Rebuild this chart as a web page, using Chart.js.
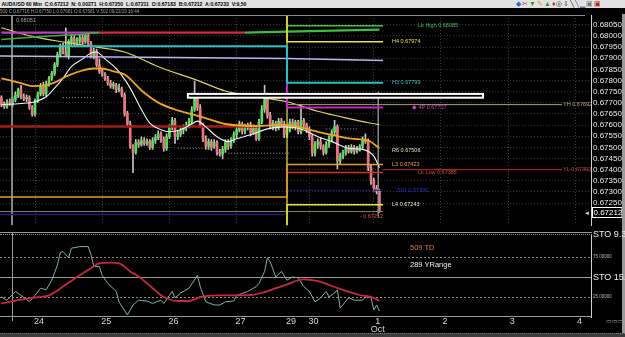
<!DOCTYPE html>
<html><head><meta charset="utf-8">
<script src="https://cdn.jsdelivr.net/npm/chart.js@4.4.1/dist/chart.umd.min.js"></script>
<style>
html,body{margin:0;padding:0;background:#000;}
body{width:625px;height:337px;overflow:hidden;position:relative;font-family:"Liberation Sans",Arial,sans-serif;}
canvas{position:absolute;left:0;}
#cMain{top:0}
#cSub{top:232px}
.t{position:absolute;white-space:nowrap;}
</style></head><body>
<canvas id="cMain" width="625" height="232"></canvas>
<canvas id="cSub" width="625" height="105"></canvas>
<div class="t" style="left:0;top:0;width:625px;height:8px;background:#e2e2e2;color:#000;font-size:5.1px;line-height:8px;font-weight:bold;">&nbsp;AUD/USD 60 Min&nbsp; C:0.67212&nbsp; N: 0.00271&nbsp; H:0.67250&nbsp; L:0.67211&nbsp; O:0.67183&nbsp; B:0.67212&nbsp; A:0.67233&nbsp; V:9,50</div>
<div class="t" style="left:516px;top:0;font-size:7px;line-height:8px;letter-spacing:1px;"><span style="color:#2a6bd0">◆</span><span style="color:#c03030">✂</span><span style="color:#2a9a2a">▼</span><span style="color:#d0a020">✎</span><span style="color:#30a030">▲</span><span style="color:#c03030">♦</span><span style="color:#333">◎</span><span style="color:#333">⇩</span><span style="color:#333">╲</span><span style="color:#2a6bd0">╲</span><span style="color:#555">▁</span><span style="color:#777">▣</span><span style="color:#c02020">▣</span></div>
<div class="t" style="left:0;top:8px;color:#a0a0a0;font-size:4.5px;line-height:7px;">500 C:0.67716 H:0.67750 L:0.67681 O:0.67681 V:502 09/23/19 16:44</div>
<div class="t" style="left:0;top:232px;width:592px;height:1px;border-top:1px solid #9a9a9a;border-bottom:1px dotted #9a9a9a;"></div>
<div class="t" style="left:0;top:333px;width:625px;height:4px;background:#3c3c3c;border-top:1px dotted #777;"></div>
<div class="t" style="left:622px;top:14px;width:3px;height:319px;background:#9a9a9a;"></div>
<div class="t" style="left:410px;top:243px;color:#e0783c;font-size:7.5px;">509 TD</div>
<div class="t" style="left:410px;top:260px;color:#f0f0f0;font-size:7.5px;">289 YRange</div>
<div class="t" style="left:593px;top:229px;color:#f0f0f0;font-size:9px;">STO 9.3</div>
<div class="t" style="left:593px;top:254px;color:#bbb;font-size:4.5px;">75.00000</div>
<div class="t" style="left:593px;top:272px;color:#f0f0f0;font-size:9px;">STO 15.</div>
<div class="t" style="left:593px;top:294px;color:#bbb;font-size:4.5px;">25.00000</div>
<div class="t" style="left:606px;top:317px;color:#aaa;font-size:6px;">▭▭▭</div>
<script>
// ---------- DATA ----------
const open = [0.67723,0.67697,0.67683,0.67705,0.67692,0.67714,0.67731,0.67762,0.67727,0.67718,
0.67723,0.67679,0.67649,0.67710,0.67740,0.67775,0.67740,0.67784,0.67810,0.67832,
0.67871,0.67915,0.67954,0.67928,0.67910,0.67971,0.67989,0.67967,0.67980,0.67993,
0.67976,0.68002,0.67963,0.67910,0.67932,0.67871,0.67845,0.67827,0.67810,0.67788,
0.67775,0.67779,0.67758,0.67762,0.67736,0.67653,0.67605,0.67505,0.67478,0.67522,
0.67513,0.67531,0.67518,0.67526,0.67500,0.67531,0.67544,0.67561,0.67535,0.67496,
0.67548,0.67592,0.67618,0.67548,0.67561,0.67579,0.67587,0.67601,0.67614,0.67670,
0.67718,0.67679,0.67601,0.67539,0.67505,0.67526,0.67505,0.67522,0.67478,0.67470,
0.67491,0.67522,0.67505,0.67531,0.67557,0.67579,0.67605,0.67574,0.67592,0.67601,
0.67566,0.67587,0.67539,0.67614,0.67670,0.67714,0.67644,0.67592,0.67609,0.67587,
0.67618,0.67605,0.67557,0.67579,0.67614,0.67596,0.67614,0.67570,0.67622,0.67601,
0.67579,0.67548,0.67474,0.67513,0.67526,0.67505,0.67478,0.67513,0.67539,0.67570,
0.67592,0.67439,0.67461,0.67478,0.67496,0.67483,0.67500,0.67483,0.67491,0.67505,
0.67535,0.67526,0.67409,0.67348,0.67317,0.67304];
const high = [0.67731,0.67705,0.67714,0.67718,0.67727,0.67749,0.67766,0.67779,0.67740,0.67736,
0.67731,0.67688,0.67718,0.67749,0.67788,0.67793,0.67797,0.67819,0.67841,0.67880,
0.67928,0.67963,0.67967,0.68037,0.67984,0.68006,0.68002,0.67993,0.68006,0.68006,
0.68015,0.68011,0.67976,0.67945,0.67941,0.67897,0.67854,0.67836,0.67819,0.67801,
0.67793,0.67788,0.67784,0.67771,0.67745,0.67662,0.67618,0.67513,0.67535,0.67535,
0.67548,0.67544,0.67539,0.67535,0.67544,0.67557,0.67574,0.67570,0.67548,0.67561,
0.67601,0.67635,0.67631,0.67574,0.67587,0.67601,0.67614,0.67631,0.67683,0.67797,
0.67727,0.67692,0.67609,0.67552,0.67539,0.67535,0.67535,0.67531,0.67491,0.67505,
0.67535,0.67535,0.67544,0.67570,0.67592,0.67618,0.67614,0.67605,0.67609,0.67614,
0.67601,0.67596,0.67627,0.67688,0.67779,0.67723,0.67657,0.67622,0.67618,0.67631,
0.67631,0.67618,0.67592,0.67627,0.67627,0.67622,0.67622,0.67692,0.67631,0.67609,
0.67592,0.67557,0.67526,0.67539,0.67544,0.67513,0.67526,0.67552,0.67579,0.67622,
0.67601,0.67474,0.67487,0.67509,0.67509,0.67513,0.67509,0.67505,0.67513,0.67548,
0.67561,0.67539,0.67422,0.67361,0.67330,0.67313];
const low = [0.67683,0.67675,0.67675,0.67688,0.67683,0.67705,0.67723,0.67718,0.67710,0.67705,
0.67670,0.67640,0.67640,0.67701,0.67731,0.67731,0.67731,0.67775,0.67801,0.67823,
0.67862,0.67906,0.67919,0.67906,0.67897,0.67958,0.67958,0.67954,0.67967,0.67963,
0.67967,0.67954,0.67902,0.67897,0.67862,0.67832,0.67819,0.67801,0.67779,0.67766,
0.67762,0.67745,0.67749,0.67727,0.67640,0.67592,0.67496,0.67387,0.67470,0.67500,
0.67505,0.67509,0.67509,0.67491,0.67491,0.67518,0.67535,0.67522,0.67483,0.67487,
0.67539,0.67579,0.67518,0.67535,0.67548,0.67561,0.67574,0.67587,0.67605,0.67662,
0.67666,0.67592,0.67526,0.67491,0.67491,0.67487,0.67496,0.67465,0.67461,0.67448,
0.67478,0.67491,0.67496,0.67522,0.67544,0.67570,0.67561,0.67561,0.67579,0.67552,
0.67557,0.67531,0.67531,0.67605,0.67657,0.67631,0.67583,0.67579,0.67574,0.67579,
0.67592,0.67544,0.67544,0.67570,0.67583,0.67579,0.67561,0.67561,0.67587,0.67566,
0.67535,0.67461,0.67461,0.67496,0.67491,0.67465,0.67470,0.67500,0.67526,0.67557,
0.67404,0.67426,0.67448,0.67465,0.67474,0.67474,0.67470,0.67474,0.67483,0.67491,
0.67518,0.67396,0.67334,0.67304,0.67291,0.67208];
const close = [0.67692,0.67683,0.67705,0.67697,0.67714,0.67736,0.67758,0.67727,0.67718,0.67723,
0.67679,0.67649,0.67710,0.67740,0.67775,0.67740,0.67784,0.67810,0.67832,0.67871,
0.67915,0.67954,0.67928,0.67915,0.67976,0.67993,0.67967,0.67984,0.67993,0.67971,
0.68002,0.67963,0.67910,0.67932,0.67871,0.67841,0.67827,0.67810,0.67788,0.67775,
0.67784,0.67758,0.67766,0.67736,0.67649,0.67605,0.67505,0.67478,0.67522,0.67513,
0.67531,0.67518,0.67526,0.67500,0.67531,0.67544,0.67561,0.67535,0.67496,0.67548,
0.67592,0.67622,0.67548,0.67561,0.67579,0.67587,0.67601,0.67618,0.67670,0.67723,
0.67679,0.67601,0.67539,0.67505,0.67526,0.67500,0.67522,0.67478,0.67470,0.67491,
0.67522,0.67505,0.67531,0.67557,0.67579,0.67605,0.67574,0.67592,0.67601,0.67566,
0.67587,0.67539,0.67614,0.67670,0.67714,0.67644,0.67592,0.67609,0.67587,0.67618,
0.67605,0.67557,0.67579,0.67614,0.67596,0.67614,0.67570,0.67622,0.67601,0.67579,
0.67548,0.67474,0.67513,0.67526,0.67505,0.67478,0.67513,0.67539,0.67570,0.67592,
0.67439,0.67461,0.67478,0.67496,0.67483,0.67500,0.67483,0.67491,0.67505,0.67535,
0.67526,0.67409,0.67348,0.67317,0.67304,0.67212];

// moving averages (hour slot, price)
const fastMaX = [0,7,12,16,19,22,25,29,32,34,37,41,43,46,50,53,57,60,64,68,70,73,77,81,84,89,95,101,107,113,118,124,129,133,135];
const fastMa = [0.67692,0.67697,0.67705,0.67727,0.67766,0.67810,0.67862,0.67897,0.67923,0.67928,0.67897,0.67854,0.67823,0.67766,0.67670,0.67609,0.67579,0.67570,0.67579,0.67605,0.67618,0.67592,0.67548,0.67526,0.67539,0.67557,0.67583,0.67592,0.67583,0.67548,0.67526,0.67496,0.67491,0.67461,0.67409];
const slowMaX = [0,7,11,16,20,24,29,33,36,40,44,51,56,62,68,74,80,91,101,113,125,131,135];
const slowMa = [0.67810,0.67788,0.67775,0.67779,0.67797,0.67823,0.67845,0.67854,0.67854,0.67841,0.67827,0.67745,0.67701,0.67670,0.67649,0.67627,0.67605,0.67596,0.67601,0.67570,0.67539,0.67531,0.67496];
const midMaX = [0,11,23,34,44,56,70,80,89,102,113,125,135];
const midMa = [0.68037,0.67998,0.67971,0.67950,0.67928,0.67862,0.67801,0.67753,0.67731,0.67705,0.67662,0.67627,0.67601];
const topLineX = [0,35,87,102,135];
const topLine = [0.68015,0.68015,0.68015,0.68019,0.68028];
const riseLineX = [0,14,28,35];
const riseLine = [0.67984,0.67998,0.68006,0.68015];
const lavLineX = [-0.5,102,136.3];
const lavLine = [0.67910,0.67899,0.67890];

// session levels: [previous day value, current day value]
const splitSlot = 102;
const endSlot = 136.3;
const farSlot = 200.2;
const cyanLevel = [0.67954, 0.67790];
const orangeLevel = [0.67278, 0.67423];
const yellowHigh = [0.68120, 0.67974];
const yellowLow = [0.67100, 0.67243];
const magentaLevel = [0.67790, 0.67679];
const lkHigh = 0.68046;
const yHigh = 0.67692;
const yLow = 0.67400;
const lkLow = 0.67387;
const s1Level = 0.67308;
const oldRed = 0.67594;
const navyLevel = 0.67199;
const lastPrice = 0.67212;
const dotted = [[22,33,0.67723],[63,76,0.67496],[81,103,0.67474],[116,127,0.67583]];
const boxX = [66.6,172];
const boxY = [0.67740,0.67723];

const priceTicks = [0.6725,0.6730,0.6735,0.6740,0.6745,0.6750,0.6755,0.6760,0.6765,0.6770,0.6775,0.6780,0.6785,0.6790,0.6795,0.6800,0.6805];
const dayTickSlots = [12,36,60,84,102,110,133,157,181,205];
const dayTickLabels = ['24','25','26','27','29','30',['1','Oct'],'2','3','4'];

const levelLabels = [
 ['Lk High 0.68085',148.8,0.68046,'#4cc04c'],
 ['H4 0.67974',139.5,0.67974,'#e6e24a'],
 ['H3 0.67799',139.5,0.67790,'#36c8c8'],
 ['◆ 4P 0.67707',146.6,0.67679,'#d040d0'],
 ['YH 0.67692',200.6,0.67692,'#c0b080'],
 ['R6 0.67506',139.5,0.67487,'#e0e0b8'],
 ['L3 0.67423',139.5,0.67423,'#e8a040'],
 ['Lk Low 0.67385',148.8,0.67387,'#d84040'],
 ['YL 0.67392',200.6,0.67400,'#d84040'],
 ['S01 0.67300',141.3,0.67308,'#3434c8'],
 ['L4 0.67243',139.5,0.67243,'#e8e8c0'],
 ['- 0.67212',128,0.67190,'#e05a40'],
 ['0.68051',5.2,0.68070,'#a0a0a0']
];

// stochastic
const stoKX = [0,2,5,7,10,12,14,16,18,20,21,22,24,25,28,31,32,33,35,36,38,41,42,45,47,49,52,54,57,58,60,61,62,64,67,70,71,73,76,78,80,83,84,88,91,92,94,95,96,98,100,102,104,106,108,110,112,114,116,117,119,120,121,124,126,129,130,132,133,134,135];
const stoK = [25,21,32,27,19,27,36,34,46,65,80,82,74,86,88,88,78,63,63,52,42,32,19,2.5,15,21,20,17,21,17,27,32,24,30,36,52,38,19,15,15,19,20,27,32,38,42,57,74,69,50,57,46,50,49,38,32,19,24,32,25,30,34,11,24,21,21,25,24,9,15,7.5];
const stoDX = [0,6,11,17,22,27,32,35,39,42,46,50,54,58,63,67,71,77,83,89,93,98,103,105,108,111,114,117,122,128,133,135];
const stoD = [17,21,24,27,38,50,61,67,68,67,57,48,36,25,20,20,25,27,27,27.5,30,36,42,45,47,46,44,40,34,27.5,24,20];

// ---------- BUILD ----------
const yMin = 0.67151, yMax = 0.68094;
const xMin = -0.5, xMax = -0.5 + 591/2.8;
const pts = (xs, ys) => xs.map((x,i)=>({x, y: ys[i]}));
const seg = (x0,x1,v) => [{x:x0,y:v},{x:x1,y:v}];
const step = (lv) => [{x:xMin,y:lv[0]},{x:splitSlot,y:lv[0]},{x:splitSlot,y:lv[1]},{x:endSlot,y:lv[1]}];
const UP='#52e252', DN='#f07480';
const bodyData = open.map((o,i)=>({x:i, y:[o, close[i]]}));
const wickData = open.map((o,i)=>({x:i, y:[low[i], high[i]]}));
const bodyCols = open.map((o,i)=> close[i] >= o ? UP : DN);

const L = (data, color, width, extra) => Object.assign({type:'line', data, borderColor:color, borderWidth:width, pointRadius:0, tension:0, order:1, fill:false}, extra||{});
const smooth = {cubicInterpolationMode:'monotone'};
const FONT = '"Liberation Sans", Arial';

const mainDatasets = [
  {type:'bar', data: wickData, backgroundColor:'#c4c4c4', barThickness:1, grouped:false, order:6},
  {type:'bar', data: bodyData, backgroundColor: bodyCols, barThickness:2, grouped:false, order:5, borderSkipped:false},
  L([{x:splitSlot,y:yMax},{x:splitSlot,y:yMin}], '#e4e040', 1.2, {order:4}),
  L([{x:3.8,y:yMax},{x:3.8,y:yMin}], '#9a9a9a', 1, {order:4}),
  L([{x:134.6,y:0.67750},{x:134.6,y:0.67190}], '#8a8a8a', 1, {order:4}),
  L(seg(xMin,92,oldRed), '#a01c1c', 2.5, {order:3}),
  L(seg(xMin,endSlot,lastPrice), '#8c8464', 1, {order:3}),
  L(seg(xMin,splitSlot,navyLevel), '#1e1e74', 1.5, {order:3}),
  L(seg(splitSlot,endSlot,s1Level), '#1a1a60', 1, {order:3}),
  L(step(cyanLevel), '#28c0c4', 2),
  L(pts(lavLineX, lavLine), '#b8b8f0', 1.5),
  L(step(orangeLevel), '#e69a3c', 1.5),
  L(step(yellowHigh), '#e8e440', 1.5),
  L(step(yellowLow), '#e8e440', 1.5),
  L([{x:splitSlot,y:magentaLevel[0]},{x:splitSlot,y:magentaLevel[1]},{x:endSlot,y:magentaLevel[1]}], '#c424c8', 2),
  L(seg(splitSlot,endSlot,lkHigh), '#46c046', 1.5),
  L(seg(splitSlot,farSlot,yHigh), '#a89c70', 1),
  L(seg(endSlot,farSlot,yLow), '#c02828', 1),
  L(seg(splitSlot,endSlot,lkLow), '#d03030', 1.5),
  L(pts(riseLineX, riseLine), '#3cb03c', 1.5),
  L(pts(topLineX, topLine), '#c23cc2', 2.2, {segment:{borderColor: c => { const x0=c.p0.parsed.x; return x0 < 35 ? '#c03cc6' : (x0 < 87 ? '#d42848' : '#3cbf3c'); }}}),
  L(pts(midMaX, midMa), '#e0d45a', 1.2, smooth),
  L(pts(slowMaX, slowMa), '#f0a424', 1.8, smooth),
  L(pts(fastMaX, fastMa), '#eef4f4', 1.1, smooth),
];
dotted.forEach(d => mainDatasets.push(L(seg(d[0],d[1],d[2]), '#9a9a9a', 1, {borderDash:[1,2]})));

const overlay = {
  id:'overlay',
  afterDatasetsDraw(chart){
    const {ctx, scales:{x,y}} = chart;
    ctx.save();
    const bx0=x.getPixelForValue(boxX[0]), bx1=x.getPixelForValue(boxX[1]);
    const by0=y.getPixelForValue(boxY[0]), by1=y.getPixelForValue(boxY[1]);
    ctx.fillStyle='#000'; ctx.fillRect(bx0,by0,bx1-bx0,by1-by0);
    ctx.strokeStyle='#fff'; ctx.lineWidth=2; ctx.strokeRect(bx0,by0,bx1-bx0,by1-by0);
    ctx.font='5.5px ' + FONT; ctx.textBaseline='middle'; ctx.textAlign='left';
    levelLabels.forEach(l => { ctx.fillStyle=l[3]; ctx.fillText(l[0], x.getPixelForValue(l[1]), y.getPixelForValue(l[2])); });
    ctx.restore();
  },
  afterDraw(chart){
    const {ctx, scales:{y}, chartArea:a} = chart;
    const py = Math.round(y.getPixelForValue(lastPrice));
    ctx.save();
    ctx.fillStyle='#000'; ctx.fillRect(a.right+1, py-5, 30, 11);
    ctx.strokeStyle='#fff'; ctx.lineWidth=1; ctx.strokeRect(a.right+1.5, py-4.5, 29.5, 10);
    ctx.fillStyle='#fff'; ctx.font='8px ' + FONT; ctx.textBaseline='middle'; ctx.textAlign='left';
    ctx.fillText(lastPrice.toFixed(5), a.right+2.5, py+0.5);
    ctx.fillStyle='#ddd'; ctx.font='6px ' + FONT; ctx.textAlign='right';
    ctx.fillText('◄', a.right-1, py+1);
    ctx.strokeStyle='#8a8a8a'; ctx.beginPath(); ctx.moveTo(a.left, a.top+0.5); ctx.lineTo(a.right-6, a.top+0.5); ctx.stroke();
    ctx.restore();
  }
};

new Chart(document.getElementById('cMain'), {
  type:'bar',
  data:{datasets: mainDatasets},
  options:{
    responsive:false, animation:false, devicePixelRatio:1,
    layout:{padding:{top:15,bottom:1,left:0,right:0}},
    plugins:{legend:{display:false}, tooltip:{enabled:false}},
    scales:{
      x:{type:'linear', min:xMin, max:xMax, offset:false,
        afterBuildTicks: s => { s.ticks = dayTickSlots.map(v=>({value:v})); },
        afterFit: s => { s.height = 0; },
        ticks:{display:false},
        grid:{color:'#3c3c3c', drawTicks:false, offset:false},
        border:{display:false, dash:[1,2]}},
      y:{type:'linear', position:'right', min:yMin, max:yMax,
        afterBuildTicks: s => { s.ticks = priceTicks.map(v=>({value:v})); },
        afterFit: s => { s.width = 34; },
        ticks:{color:'#ececec', padding:2, autoSkip:false, font:{size:8, family:FONT}, callback: v => Number(v).toFixed(5)},
        grid:{color:'#353535', drawTicks:false},
        border:{display:true, color:'#d0d0d0', width:1, dash:[1,2]}}
    }
  },
  plugins:[overlay]
});

const subGrid = {
  id:'subGrid',
  beforeDatasetsDraw(chart){
    const {ctx, scales:{x,y}, chartArea:a} = chart;
    ctx.save(); ctx.lineWidth=1;
    [[75,true],[25,true],[50,false],[0,false]].forEach(([v,d]) => {
      const py = Math.round(y.getPixelForValue(v)) + 0.5 - (v===0?1:0);
      ctx.strokeStyle = d ? '#8c8c8c' : '#9a9a9a';
      ctx.setLineDash(d ? [2,2] : []);
      ctx.beginPath(); ctx.moveTo(a.left, py); ctx.lineTo(a.right, py); ctx.stroke();
    });
    ctx.setLineDash([]);
    const cx = Math.round(x.getPixelForValue(3.8))+0.5;
    ctx.strokeStyle='#9a9a9a'; ctx.beginPath(); ctx.moveTo(cx, 0); ctx.lineTo(cx, a.bottom+4); ctx.stroke();
    ctx.restore();
  }
};

new Chart(document.getElementById('cSub'), {
  type:'line',
  data:{datasets:[
    {data: pts(stoDX, stoD), borderColor:'#c8283c', borderWidth:1.8, pointRadius:0, cubicInterpolationMode:'monotone'},
    {data: pts(stoKX, stoK), borderColor:'#7fb2a2', borderWidth:1, pointRadius:0, tension:0}
  ]},
  options:{
    responsive:false, animation:false, devicePixelRatio:1,
    layout:{padding:{top:3,bottom:0,left:0,right:0}},
    plugins:{legend:{display:false}, tooltip:{enabled:false}},
    scales:{
      x:{type:'linear', min:xMin, max:xMax,
        afterBuildTicks: s => { s.ticks = dayTickSlots.map(v=>({value:v})); },
        afterFit: s => { s.height = 20; },
        ticks:{color:'#d8d8d8', padding:1, labelOffset:4, maxRotation:0, autoSkip:false,
          font:{size:9, family:FONT, lineHeight:0.85},
          callback: (v) => { const i = dayTickSlots.indexOf(v); return i>=0 ? dayTickLabels[i] : ''; }},
        grid:{display:false, drawTicks:false},
        border:{display:false}},
      y:{type:'linear', position:'right', min:0, max:102.5,
        afterFit: s => { s.width = 34; },
        ticks:{display:false},
        grid:{display:false, drawTicks:false},
        border:{display:true, color:'#d0d0d0', width:1}}
    }
  },
  plugins:[subGrid]
});
</script>
</body></html>
